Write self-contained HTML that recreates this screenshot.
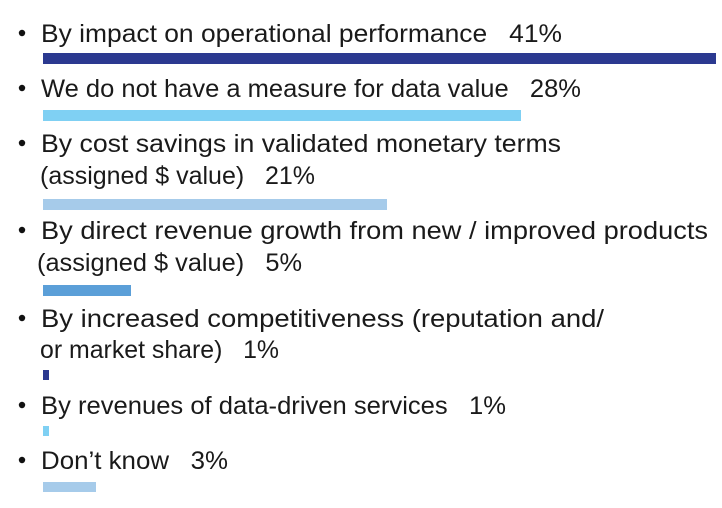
<!DOCTYPE html>
<html><head><style>
html,body{margin:0;padding:0;background:#fff;width:722px;height:508px;overflow:hidden}
svg{display:block}
text{font-family:"Liberation Sans",sans-serif;font-size:25px;fill:#1a1a1a;white-space:pre}
</style></head><body>
<svg width="722" height="508" viewBox="0 0 722 508" xml:space="preserve">
<g>
<circle cx="22" cy="33" r="3.2" fill="#111"/>
<circle cx="22" cy="88" r="3.2" fill="#111"/>
<circle cx="22" cy="143" r="3.2" fill="#111"/>
<circle cx="22" cy="230" r="3.2" fill="#111"/>
<circle cx="22" cy="318" r="3.2" fill="#111"/>
<circle cx="22" cy="405" r="3.2" fill="#111"/>
<circle cx="22" cy="460" r="3.2" fill="#111"/>
</g>
<text x="41" y="42" textLength="521" lengthAdjust="spacingAndGlyphs">By impact on operational performance   41%</text>
<text x="41" y="97" textLength="540" lengthAdjust="spacingAndGlyphs">We do not have a measure for data value   28%</text>
<text x="41" y="152" textLength="520" lengthAdjust="spacingAndGlyphs">By cost savings in validated monetary terms</text>
<text x="40" y="184" textLength="275" lengthAdjust="spacingAndGlyphs">(assigned $ value)   21%</text>
<text x="41" y="239" textLength="667" lengthAdjust="spacingAndGlyphs">By direct revenue growth from new / improved products</text>
<text x="37" y="271" textLength="265" lengthAdjust="spacingAndGlyphs">(assigned $ value)   5%</text>
<text x="41" y="327" textLength="563" lengthAdjust="spacingAndGlyphs">By increased competitiveness (reputation and/</text>
<text x="40" y="358" textLength="239" lengthAdjust="spacingAndGlyphs">or market share)   1%</text>
<text x="41" y="414" textLength="465" lengthAdjust="spacingAndGlyphs">By revenues of data-driven services   1%</text>
<text x="41" y="469" textLength="187" lengthAdjust="spacingAndGlyphs">Don’t know   3%</text>
<rect x="43" y="53" width="673" height="11" fill="#2b3990"/>
<rect x="43" y="110" width="478" height="11" fill="#7fd0f3"/>
<rect x="43" y="199" width="344" height="11" fill="#a6cbea"/>
<rect x="43" y="285" width="88" height="11" fill="#5b9fd8"/>
<rect x="43" y="370" width="6" height="10" fill="#2b3990"/>
<rect x="43" y="426" width="6" height="10" fill="#7fd0f3"/>
<rect x="43" y="482" width="53" height="10" fill="#a6cbea"/>
</svg>
</body></html>
